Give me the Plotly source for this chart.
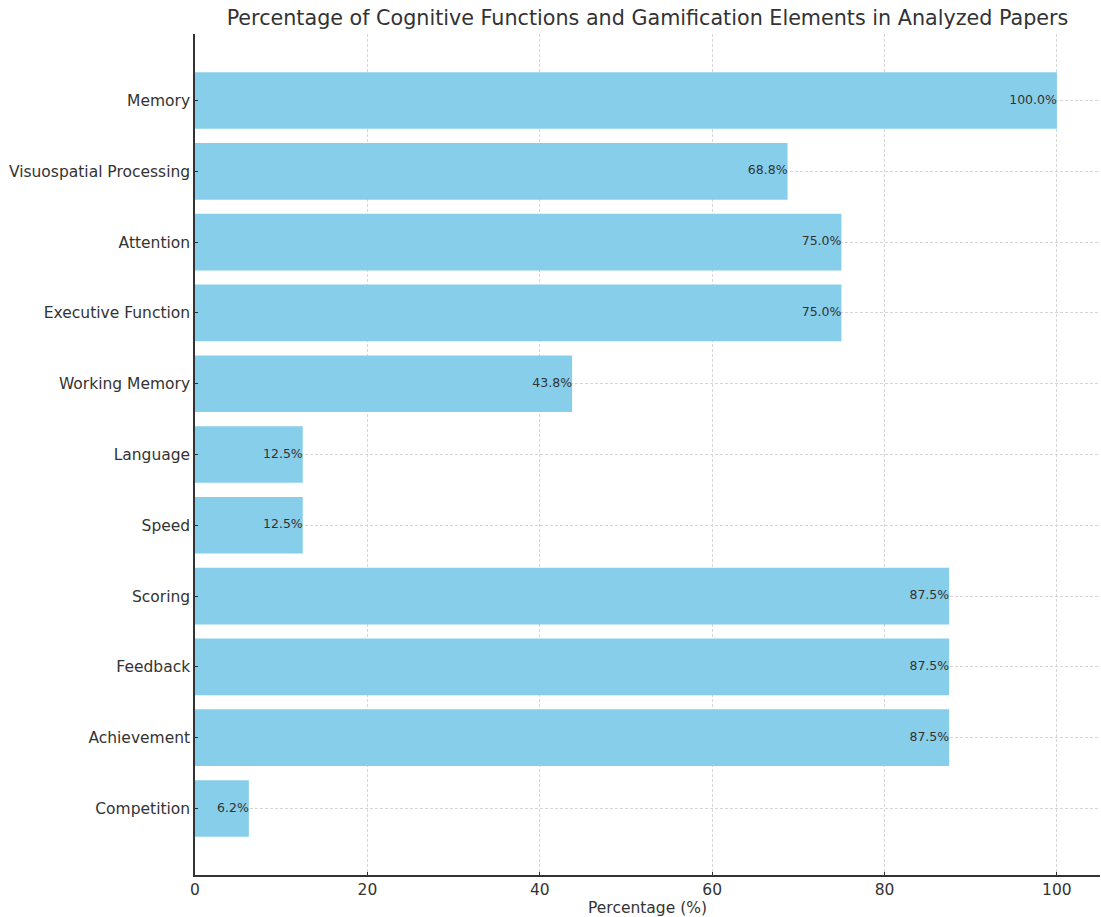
import plotly.graph_objects as go

categories = ["Memory", "Visuospatial Processing", "Attention", "Executive Function",
              "Working Memory", "Language", "Speed", "Scoring", "Feedback",
              "Achievement", "Competition"]
values = [100.0, 68.75, 75.0, 75.0, 43.75, 12.5, 12.5, 87.5, 87.5, 87.5, 6.25]
labels = ["100.0%", "68.8%", "75.0%", "75.0%", "43.8%", "12.5%", "12.5%",
          "87.5%", "87.5%", "87.5%", "6.2%"]
x_ticks = [0, 20, 40, 60, 80, 100]

font_family = "DejaVu Sans"
fig = go.Figure()
fig.add_trace(go.Bar(
    y=categories, x=values, orientation="h",
    marker=dict(color="#87CEEB", line=dict(width=0)),
    width=0.8, showlegend=False, hoverinfo="skip",
))
fig.add_trace(go.Scatter(
    y=categories, x=values, mode="text", text=labels,
    textposition="middle left",
    textfont=dict(family=font_family, size=12.5, color="#333333"),
    showlegend=False, hoverinfo="skip", cliponaxis=False,
))

fig.update_layout(
    width=1101, height=917,
    margin=dict(l=195, r=1, t=34, b=42),
    paper_bgcolor="white", plot_bgcolor="white",
    font=dict(family=font_family, color="#333333"),
    title=dict(text="Percentage of Cognitive Functions and Gamification Elements in Analyzed Papers",
               x=(195 + 1100) / 2 / 1101, xanchor="center", y=1 - 18 / 917, yanchor="middle",
               font=dict(size=20.7, color="#333333", family=font_family)),
    bargap=0.2,
)
fig.update_xaxes(
    range=[0, 105], tickvals=x_ticks, ticktext=[str(t) for t in x_ticks],
    showgrid=True, gridcolor="#d6d6d6", griddash="3px,2px", gridwidth=1,
    showline=True, linecolor="#333333", linewidth=1.5,
    ticks="inside", ticklen=3, tickcolor="#333333",
    tickfont=dict(size=15.5, color="#333333"),
    title=dict(text="Percentage (%)", font=dict(size=15.5, color="#333333"), standoff=3),
    zeroline=False,
)
fig.update_yaxes(
    categoryorder="array", categoryarray=categories[::-1],
    range=[-0.94, 10.94],
    showgrid=True, gridcolor="#d6d6d6", griddash="3px,2px", gridwidth=1,
    showline=True, linecolor="#333333", linewidth=1.5,
    ticks="inside", ticklen=3, tickcolor="#333333",
    tickfont=dict(size=15.5, color="#333333"),
    ticklabelstandoff=0,
    zeroline=False,
)
fig.write_html("out.html")
